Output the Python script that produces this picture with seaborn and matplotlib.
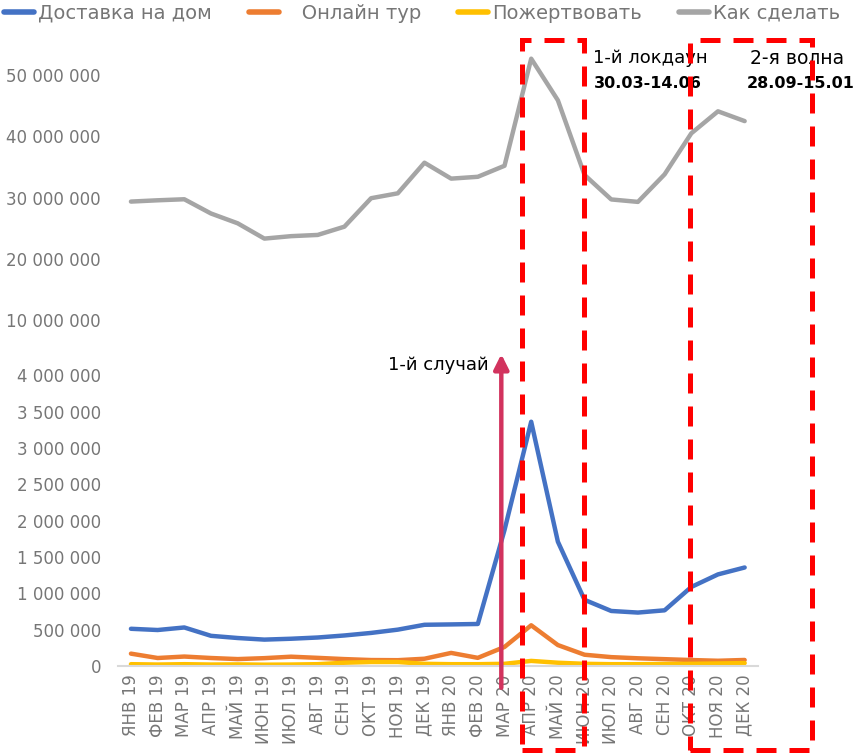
import numpy as np
import pandas as pd
import matplotlib
matplotlib.use("Agg")
import matplotlib.pyplot as plt
from matplotlib.lines import Line2D
from matplotlib.patches import Rectangle
from matplotlib.ticker import FuncFormatter, FixedLocator
import seaborn as sns

# ---------------- data ----------------
months = ["ЯНВ 19", "ФЕВ 19", "МАР 19", "АПР 19", "МАЙ 19", "ИЮН 19", "ИЮЛ 19", "АВГ 19",
          "СЕН 19", "ОКТ 19", "НОЯ 19", "ДЕК 19", "ЯНВ 20", "ФЕВ 20", "МАР 20", "АПР 20",
          "МАЙ 20", "ИЮН 20", "ИЮЛ 20", "АВГ 20", "СЕН 20", "ОКТ 20", "НОЯ 20", "ДЕК 20"]

delivery = [512000, 495000, 530000, 415000, 385000, 363000, 375000, 392000,
            420000, 455000, 500000, 567000, 572000, 578000, 1870000, 3360000,
            1710000, 910000, 757000, 735000, 766000, 1087000, 1260000, 1355000]
online_tour = [170000, 110000, 130000, 110000, 95000, 108000, 128000, 112000,
               95000, 82000, 80000, 100000, 180000, 112000, 262000, 560000,
               288000, 155000, 122000, 106000, 94000, 82000, 72000, 83000]
donate = [25000, 20000, 25000, 20000, 22000, 18000, 20000, 25000,
          45000, 55000, 55000, 30000, 25000, 25000, 30000, 70000,
          45000, 30000, 25000, 25000, 28000, 30000, 35000, 40000]
how_to = [29350000, 29560000, 29730000, 27400000, 25800000, 23300000, 23700000, 23900000,
          25250000, 29900000, 30700000, 35700000, 33100000, 33400000, 35200000, 52700000,
          45900000, 33700000, 29700000, 29300000, 33800000, 40500000, 44100000, 42500000]

series_names = ["Доставка на дом", "Онлайн тур", "Пожертвовать", "Как сделать"]
legend_labels = ["Доставка на дом", "   Онлайн тур", "Пожертвовать", "Как сделать"]
colors = ["#4472C4", "#ED7D31", "#FFC000", "#A5A5A5"]

low_ticks = [0, 500000, 1000000, 1500000, 2000000, 2500000, 3000000, 3500000, 4000000]
high_ticks = [10000000, 20000000, 30000000, 40000000, 50000000]

idx = np.arange(len(months))
df_low = pd.concat([
    pd.DataFrame({"idx": idx, "value": delivery, "series": series_names[0]}),
    pd.DataFrame({"idx": idx, "value": online_tour, "series": series_names[1]}),
    pd.DataFrame({"idx": idx, "value": donate, "series": series_names[2]}),
])
df_high = pd.DataFrame({"idx": idx, "value": how_to, "series": series_names[3]})

# ---------------- style ----------------
sns.set_theme(style="white")
plt.rcParams["font.family"] = ["DejaVu Sans"]
tick_color = "#767676"

W, H = 854, 754
fig = plt.figure(figsize=(W / 100, H / 100), dpi=100)

def fx(px):
    return px / W

def fy(py):
    return 1 - py / H

left_px, right_px = 117.6, 758.0
ax_low = fig.add_axes([fx(left_px), fy(666), fx(right_px) - fx(left_px), fy(353.4) - fy(666)])
ax_high = fig.add_axes([fx(left_px), fy(320), fx(right_px) - fx(left_px), fy(44.6) - fy(320)])

pal = dict(zip(series_names, colors))
sns.lineplot(data=df_low, x="idx", y="value", hue="series", palette=pal, ax=ax_low,
             legend=False, linewidth=3.2, sort=False)
sns.lineplot(data=df_high, x="idx", y="value", hue="series", palette=pal, ax=ax_high,
             legend=False, linewidth=3.2, sort=False)

fmt = FuncFormatter(lambda v, p: f"{int(round(v)):,}".replace(",", " "))

for ax in (ax_low, ax_high):
    ax.set_xlim(-0.5, len(months) - 0.5)
    ax.set_xlabel("")
    ax.set_ylabel("")
    for s in ["top", "right", "left"]:
        ax.spines[s].set_visible(False)
    ax.tick_params(axis="both", length=0, colors=tick_color, labelsize=12)
    ax.yaxis.set_major_formatter(fmt)
    ax.grid(False)
    ax.patch.set_alpha(0)

ax_low.set_ylim(0, 4300000)
ax_low.yaxis.set_major_locator(FixedLocator(low_ticks))
ax_low.spines["bottom"].set_color("#D9D9D9")
ax_low.spines["bottom"].set_linewidth(1.5)
ax_low.set_xticks(idx)
ax_low.set_xticklabels(months, rotation=90, color=tick_color, fontsize=12)
ax_low.tick_params(axis="x", pad=6)
ax_low.tick_params(axis="y", pad=12)

ax_high.set_ylim(10000000, 55000000)
ax_high.yaxis.set_major_locator(FixedLocator(high_ticks))
ax_high.spines["bottom"].set_visible(False)
ax_high.set_xticks([])
ax_high.tick_params(axis="y", pad=12)

# arrow "1-й случай"
arrow_color = "#D2335E"
ax_low.annotate("", xy=(13.88, 4290000), xytext=(13.88, -300000),
                arrowprops=dict(arrowstyle="-|>", color=arrow_color, lw=3.2, mutation_scale=22,
                                shrinkA=0, shrinkB=0),
                annotation_clip=False)
ax_low.text(13.4, 4140000, "1-й случай", ha="right", va="center", fontsize=13, color="black")

# red dashed rectangles (figure coordinates)
for (x0, x1) in [(522.5, 583.5), (690.5, 812.5)]:
    r = Rectangle((fx(x0), fy(750)), fx(x1) - fx(x0), fy(40) - fy(750),
                  transform=fig.transFigure, fill=False, edgecolor="#FF0000",
                  linewidth=3.6, linestyle=(0, (4.0, 2.6)), clip_on=False, zorder=10)
    fig.add_artist(r)

fig.text(fx(593), fy(58), "1-й локдаун", ha="left", va="center", fontsize=13, color="black")
fig.text(fx(594), fy(84), "30.03-14.06", ha="left", va="center", fontsize=11.5,
         fontweight="bold", color="black")
fig.text(fx(750), fy(58), "2-я волна", ha="left", va="center", fontsize=13.5, color="black")
fig.text(fx(747), fy(84), "28.09-15.01", ha="left", va="center", fontsize=11.5,
         fontweight="bold", color="black")

# legend
handles = [Line2D([0], [0], color=c, lw=4, solid_capstyle="round") for c in colors]
leg = fig.legend(handles, legend_labels, loc="upper left", bbox_to_anchor=(0.0, 1.0),
                 ncol=4, frameon=False, fontsize=14, handlelength=1.55, handletextpad=0.2,
                 columnspacing=1.9, borderaxespad=0.1, borderpad=0.1)
for t in leg.get_texts():
    t.set_color(tick_color)

fig.savefig("out.png", dpi=100)
